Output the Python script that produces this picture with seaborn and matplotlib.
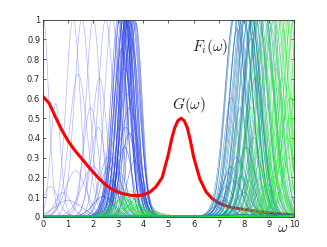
import numpy as np
import pandas as pd
import matplotlib
matplotlib.use("Agg")
import matplotlib.pyplot as plt
import seaborn as sns
from matplotlib.colors import LinearSegmentedColormap, to_hex

# ---------------- data ----------------
# G(omega): thick red curve
g_omega = [0.0, 0.25, 0.5, 0.75, 1.0, 1.25, 1.5, 1.75, 2.0, 2.25, 2.5, 2.75,
           3.0, 3.25, 3.5, 3.75, 4.0, 4.25, 4.5, 4.75, 5.0, 5.125, 5.25, 5.375,
           5.5, 5.625, 5.75, 5.875, 6.0, 6.25, 6.5, 6.75, 7.0, 7.25, 7.5, 7.75,
           8.0, 8.25, 8.5, 8.75, 9.0, 9.25, 9.5, 9.75, 10.0]
g_value = [0.61, 0.575, 0.505, 0.44, 0.385, 0.34, 0.302, 0.264, 0.227, 0.192, 0.163, 0.141,
           0.126, 0.116, 0.110, 0.108, 0.112, 0.125, 0.153, 0.20, 0.32, 0.395, 0.452, 0.488,
           0.50, 0.488, 0.452, 0.385, 0.305, 0.192, 0.127, 0.092, 0.071, 0.058, 0.049, 0.043,
           0.039, 0.034, 0.029, 0.025, 0.021, 0.018, 0.015, 0.013, 0.012]

# F_i(omega): thin curves, each given by peak position, peak width, peak height, colour tone
# left, light blue
a_center = [0.0, 1.2, 1.55, 2.0, 2.5, 2.75, 1.4, 2.25, 0.5, 1.9, 2.2, 0.3, 1.3, 2.0, 0.8, 2.6, 1.0]
a_width  = [0.22, 0.28, 0.3, 0.28, 0.3, 0.3, 0.35, 0.3, 0.2, 0.3, 0.3, 0.3, 0.4, 0.45, 0.3, 0.35, 0.5]
a_height = [1.02, 1.0, 1.0, 1.0, 1.0, 1.0, 0.72, 0.70, 0.57, 0.55, 0.45, 0.15, 0.23, 0.25, 0.12, 0.30, 0.08]
a_tone   = [0.02, 0.02, 0.03, 0.02, 0.04, 0.03, 0.02, 0.03, 0.02, 0.04, 0.05, 0.03, 0.04, 0.05, 0.06, 0.08, 0.1]
# middle, strong blue peaks near 3.3
b_center = [3.0, 3.05, 3.1, 3.15, 3.2, 3.22, 3.25, 3.28, 3.3, 3.32, 3.35, 3.38, 3.4, 3.42,
            3.45, 3.5, 3.55, 3.6, 3.65, 3.7, 3.25, 3.35, 3.45, 3.15, 3.5, 3.3]
b_width  = [0.3, 0.28, 0.32, 0.3, 0.27, 0.35, 0.3, 0.25, 0.33, 0.28, 0.3, 0.26, 0.32, 0.28,
            0.3, 0.27, 0.3, 0.28, 0.26, 0.25, 0.4, 0.42, 0.38, 0.36, 0.35, 0.22]
b_height = [1.0, 1.0, 1.02, 1.0, 1.0, 1.0, 1.05, 1.0, 1.0, 1.02, 1.0, 1.0, 1.0, 1.03,
            1.0, 1.0, 1.0, 1.0, 1.0, 0.98, 0.75, 0.62, 0.55, 0.85, 0.9, 1.0]
b_tone   = [0.22, 0.24, 0.25, 0.23, 0.26, 0.25, 0.24, 0.27, 0.25, 0.26, 0.24, 0.28, 0.25, 0.27,
            0.26, 0.24, 0.25, 0.27, 0.26, 0.25, 0.15, 0.12, 0.18, 0.2, 0.3, 0.25]
# middle, low bumps near 3.3
c_center = [2.6, 2.8, 2.9, 3.0, 3.1, 3.2, 3.3, 3.4, 3.5, 3.6, 3.7, 3.8, 4.0, 4.2, 2.7,
            3.05, 3.25, 3.45, 3.65, 3.85, 3.15, 3.35, 3.55, 2.95, 3.75, 4.4, 2.4, 3.3,
            3.2, 3.4, 3.6, 3.0, 3.8, 3.5, 3.1, 3.3]
c_width  = [0.3, 0.3, 0.35, 0.3, 0.35, 0.3, 0.35, 0.3, 0.35, 0.3, 0.3, 0.35, 0.4, 0.4, 0.3,
            0.3, 0.3, 0.35, 0.3, 0.4, 0.3, 0.35, 0.3, 0.3, 0.35, 0.4, 0.4, 0.4,
            0.4, 0.45, 0.4, 0.35, 0.4, 0.3, 0.45, 0.5]
c_height = [0.25, 0.3, 0.2, 0.12, 0.15, 0.1, 0.12, 0.08, 0.1, 0.07, 0.06, 0.05, 0.05, 0.03, 0.18,
            0.22, 0.35, 0.42, 0.28, 0.1, 0.06, 0.05, 0.09, 0.14, 0.04, 0.02, 0.1, 0.45,
            0.09, 0.11, 0.06, 0.08, 0.05, 0.13, 0.07, 0.04]
c_tone   = [0.45, 0.5, 0.6, 0.8, 0.85, 0.9, 0.88, 0.92, 0.86, 0.9, 0.85, 0.8, 0.85, 0.9, 0.35,
            0.4, 0.3, 0.3, 0.4, 0.7, 0.95, 0.97, 0.75, 0.65, 0.9, 0.9, 0.3, 0.2,
            0.93, 0.9, 0.96, 0.88, 0.92, 0.8, 0.98, 0.95]
# right, tall peaks (blue -> teal -> green)
d_center = [7.6, 7.7, 7.8, 7.9, 8.0, 8.1, 8.2, 8.3, 7.75, 7.95, 8.15, 8.4,
            8.0, 8.2, 8.4, 8.5, 8.6, 8.7, 8.8, 8.9, 9.0, 8.3, 8.55, 8.75, 9.1, 9.2,
            8.6, 8.8, 9.0, 9.2, 9.3, 9.4, 9.5, 9.6, 9.7, 9.8, 9.9, 10.1, 10.3, 9.1, 9.45,
            9.5, 9.8, 10.0, 10.2, 10.5, 10.8, 7.5, 7.85, 8.45, 9.35, 9.65,
            7.65, 8.05, 8.35, 8.65, 8.95, 9.25, 9.55, 9.85, 8.25, 8.85]
d_width  = [0.35, 0.4, 0.38, 0.42, 0.36, 0.4, 0.45, 0.38, 0.33, 0.4, 0.37, 0.42,
            0.45, 0.4, 0.38, 0.42, 0.4, 0.45, 0.38, 0.4, 0.42, 0.36, 0.4, 0.45, 0.38, 0.4,
            0.42, 0.4, 0.38, 0.45, 0.4, 0.42, 0.38, 0.4, 0.45, 0.4, 0.42, 0.45, 0.5, 0.35, 0.4,
            0.3, 0.35, 0.4, 0.45, 0.5, 0.6, 0.3, 0.3, 0.35, 0.3, 0.32,
            0.4, 0.42, 0.38, 0.4, 0.36, 0.4, 0.38, 0.35, 0.4, 0.38]
d_height = [1.0, 1.05, 1.0, 1.1, 1.0, 1.05, 1.1, 1.0, 0.95, 1.0, 1.1, 1.05,
            1.1, 1.0, 1.05, 1.1, 1.0, 1.15, 1.0, 1.05, 1.1, 0.9, 1.0, 1.1, 1.05, 1.0,
            1.05, 1.1, 1.0, 1.1, 1.05, 1.0, 1.1, 1.05, 1.0, 1.1, 1.05, 1.2, 1.3, 0.95, 1.0,
            1.0, 1.05, 1.1, 1.2, 1.4, 1.6, 0.6, 0.55, 0.7, 0.65, 0.5,
            1.05, 1.1, 1.0, 0.85, 0.8, 0.75, 0.7, 0.6, 1.05, 0.9]
d_tone   = [0.48, 0.5, 0.52, 0.5, 0.55, 0.53, 0.5, 0.56, 0.47, 0.54, 0.58, 0.55,
            0.66, 0.68, 0.7, 0.72, 0.68, 0.7, 0.73, 0.7, 0.72, 0.62, 0.66, 0.7, 0.74, 0.72,
            0.8, 0.82, 0.85, 0.83, 0.86, 0.84, 0.87, 0.85, 0.88, 0.86, 0.9, 0.88, 0.9, 0.8, 0.84,
            0.95, 0.97, 0.98, 0.96, 0.99, 1.0, 0.5, 0.6, 0.65, 0.85, 0.9,
            0.62, 0.66, 0.7, 0.9, 0.93, 0.94, 0.95, 0.97, 0.6, 0.92]
# right, low bumps
e_center = [6.9, 7.1, 7.3, 7.5, 7.7, 7.9, 8.1, 8.3, 8.5, 8.7, 8.9, 9.1, 9.3, 9.5, 9.7,
            7.2, 7.6, 8.0, 8.4, 8.8, 9.2, 9.6, 7.4, 7.8, 8.2, 8.6, 9.0, 9.4, 9.8, 10.0,
            7.5, 7.9, 8.3, 8.7, 9.1, 9.5, 9.0]
e_width  = [0.25, 0.3, 0.3, 0.35, 0.3, 0.3, 0.35, 0.3, 0.3, 0.35, 0.3, 0.3, 0.3, 0.35, 0.3,
            0.3, 0.35, 0.3, 0.3, 0.35, 0.3, 0.3, 0.3, 0.35, 0.3, 0.3, 0.3, 0.3, 0.25, 0.04,
            0.35, 0.3, 0.35, 0.3, 0.3, 0.35, 1.2]
e_height = [0.05, 0.1, 0.15, 0.25, 0.3, 0.2, 0.35, 0.25, 0.3, 0.2, 0.3, 0.25, 0.35, 0.3, 0.4,
            0.08, 0.18, 0.12, 0.4, 0.15, 0.2, 0.1, 0.22, 0.28, 0.18, 0.25, 0.15, 0.12, 0.3, 1.0,
            0.45, 0.5, 0.55, 0.5, 0.45, 0.6, 0.012]
e_tone   = [0.5, 0.55, 0.5, 0.6, 0.55, 0.65, 0.7, 0.75, 0.8, 0.85, 0.9, 0.95, 0.92, 0.97, 0.95,
            0.45, 0.5, 0.6, 0.7, 0.8, 0.88, 0.9, 0.55, 0.62, 0.72, 0.85, 0.92, 0.95, 0.97, 1.0,
            0.88, 0.92, 0.95, 0.97, 0.93, 0.96, 0.25]

# ---------------- build curves ----------------
cmap = LinearSegmentedColormap.from_list(
    "bg", [(0.0, (0.50, 0.56, 1.0)), (0.25, (0.10, 0.20, 0.90)),
           (0.5, (0.15, 0.42, 0.82)), (0.7, (0.0, 0.55, 0.55)),
           (0.85, (0.35, 0.85, 0.45)), (1.0, (0.0, 1.0, 0.0))])

w = np.linspace(0, 10, 401)


def build(centers, widths, heights, tones, tag):
    frames, pal = [], {}
    for i, (c, s, h, t) in enumerate(zip(centers, widths, heights, tones)):
        y = h * np.exp(-0.5 * ((w - c) / s) ** 2) + 0.004
        key = f"{tag}{i:03d}"
        frames.append(pd.DataFrame({"omega": w, "F": y, "curve": key}))
        pal[key] = to_hex(cmap(t))
    return pd.concat(frames, ignore_index=True), pal


left_df, left_pal = build(a_center + b_center + c_center, a_width + b_width + c_width,
                          a_height + b_height + c_height, a_tone + b_tone + c_tone, "L")
right_df, right_pal = build(d_center + e_center, d_width + e_width,
                            d_height + e_height, d_tone + e_tone, "R")
g_df = pd.DataFrame({"omega": g_omega, "G": g_value})

# ---------------- plot ----------------
sns.set_style("ticks")
plt.rcParams["mathtext.fontset"] = "cm"
plt.rcParams["lines.solid_joinstyle"] = "round"
fig = plt.figure(figsize=(3.27, 2.47), dpi=100)
ax = fig.add_axes([0.1315, 0.1215, 0.7675, 0.7995])

sns.lineplot(data=left_df, x="omega", y="F", hue="curve", palette=left_pal,
             estimator=None, sort=False, legend=False, linewidth=0.5, alpha=0.6, ax=ax)
sns.lineplot(data=g_df, x="omega", y="G", color="#ff0000", linewidth=2.2,
             estimator=None, legend=False, ax=ax)
sns.lineplot(data=right_df, x="omega", y="F", hue="curve", palette=right_pal,
             estimator=None, sort=False, legend=False, linewidth=0.5, alpha=0.6, ax=ax)

ax.set_xlim(0, 10)
ax.set_ylim(0, 1)
ax.set_xticks(range(0, 11))
ax.set_yticks([i / 10 for i in range(11)])
ax.set_yticklabels(["0"] + [f"0.{i}" for i in range(1, 10)] + ["1"])
ax.tick_params(direction="in", length=2.5, width=0.5, labelsize=6, pad=2,
               top=True, right=True)
for sp in ax.spines.values():
    sp.set_linewidth(0.6)
    sp.set_color("#333333")
    sp.set_zorder(10)
ax.set_xlabel("")
ax.set_ylabel("")
ax.text(6.65, 0.86, r"$F_i(\omega)$", fontsize=11, ha="center", va="center")
ax.text(5.8, 0.565, r"$G(\omega)$", fontsize=11, ha="center", va="center")
ax.text(9.55, -0.055, r"$\omega$", fontsize=11, ha="center", va="center")

fig.savefig("out.png", dpi=100, facecolor="white")
